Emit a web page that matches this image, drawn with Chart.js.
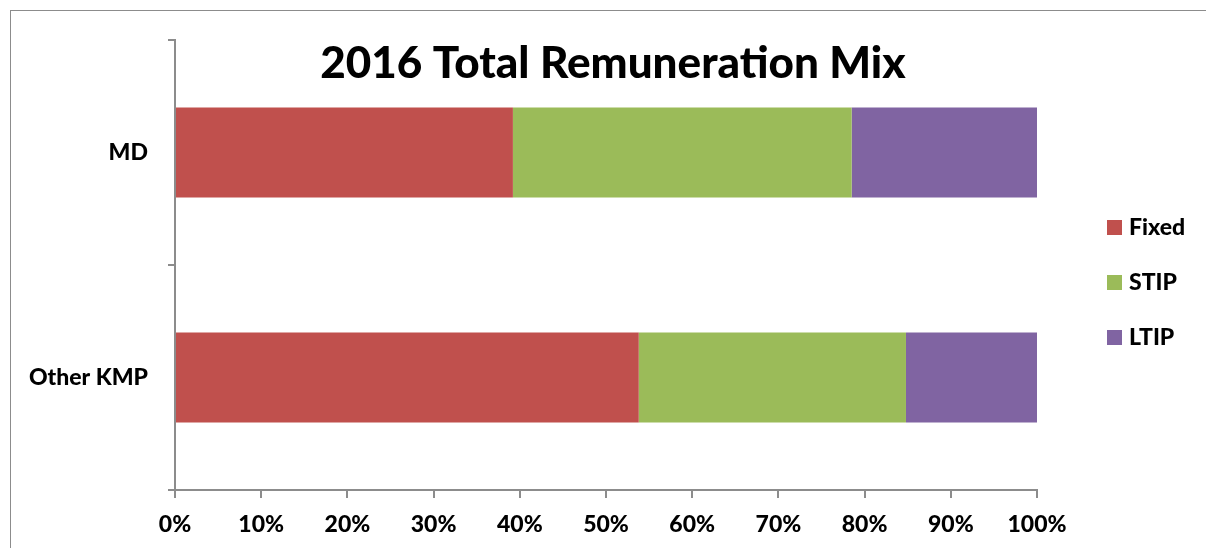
<!DOCTYPE html>
<html>
<head>
<meta charset="utf-8">
<script src="https://cdn.jsdelivr.net/npm/chart.js@4/dist/chart.umd.min.js"></script>
<style>
  body { margin: 0; background: #fff; overflow: hidden; }
  #wrap { position: relative; width: 1206px; height: 548px; }
  #frame { position: absolute; left: 10px; top: 10px; width: 1300px; height: 600px;
           border-left: 1.5px solid #8c8c8c; border-top: 1.5px solid #8c8c8c; pointer-events: none; }
</style>
</head>
<body>
<div id="wrap">
  <canvas id="mix" width="1206" height="548"></canvas>
  <div id="frame"></div>
</div>
<script>
var categories = ['MD', 'Other KMP'];
var fixedPct = [39.2, 53.8];
var stipPct = [39.3, 31.0];
var ltipPct = [21.5, 15.2];
var xTicks = [0, 10, 20, 30, 40, 50, 60, 70, 80, 90, 100];
var chartTitle = '2016 Total Remuneration Mix';

var axisGrey = '#8c8c8c';
var font = 'Lato, "Open Sans", sans-serif';

// title + legend drawn by hand so they can sit where Excel put them
var extrasPlugin = {
    id: 'extras',
    afterDraw: function(chart) {
        var ctx = chart.ctx;
        ctx.save();
        ctx.fillStyle = '#000';
        ctx.font = '900 44px ' + font;
        ctx.textAlign = 'center';
        ctx.textBaseline = 'alphabetic';
        ctx.fillText(chartTitle, 613, 78);

        ctx.font = '900 23px ' + font;
        ctx.textAlign = 'left';
        ctx.textBaseline = 'middle';
        chart.data.datasets.forEach(function(ds, i) {
            var y = 227 + i * 55;
            ctx.fillStyle = ds.backgroundColor;
            ctx.fillRect(1107, y - 7, 15, 15);
            ctx.fillStyle = '#000';
            ctx.fillText(ds.label, 1129, y + 1);
        });
        ctx.restore();
    }
};

var ctx = document.getElementById('mix').getContext('2d');
var mixChart = new Chart(ctx, {
    type: 'bar',
    data: {
        labels: categories,
        datasets: [
            { label: 'Fixed', data: fixedPct, backgroundColor: '#C0504D' },
            { label: 'STIP', data: stipPct, backgroundColor: '#9BBB59' },
            { label: 'LTIP', data: ltipPct, backgroundColor: '#8064A2' }
        ]
    },
    options: {
        indexAxis: 'y',
        responsive: false,
        animation: false,
        layout: { padding: { left: 0, top: 40, right: 169, bottom: 0 } },
        datasets: { bar: { categoryPercentage: 1, barPercentage: 0.4 } },
        plugins: {
            legend: { display: false },
            title: { display: false },
            tooltip: { enabled: false }
        },
        scales: {
            x: {
                stacked: true,
                min: 0,
                max: 100,
                afterFit: function(scale) { scale.height = 58; },
                afterBuildTicks: function(scale) {
                    scale.ticks = xTicks.map(function(v) { return { value: v }; });
                },
                ticks: {
                    color: '#000',
                    font: { family: font, size: 23, weight: '900' },
                    padding: 13,
                    maxRotation: 0,
                    callback: function(v) { return v + '%'; }
                },
                grid: { drawOnChartArea: false, tickLength: 8, color: axisGrey, lineWidth: 2 },
                border: { color: axisGrey, width: 2 }
            },
            y: {
                stacked: true,
                afterFit: function(scale) { scale.width = 175; },
                ticks: {
                    color: '#000',
                    font: { family: font, size: 23, weight: '900' },
                    padding: 20
                },
                grid: { drawOnChartArea: false, tickLength: 7, color: axisGrey, lineWidth: 2, offset: true },
                border: { color: axisGrey, width: 2 }
            }
        }
    },
    plugins: [extrasPlugin]
});
</script>
</body>
</html>
